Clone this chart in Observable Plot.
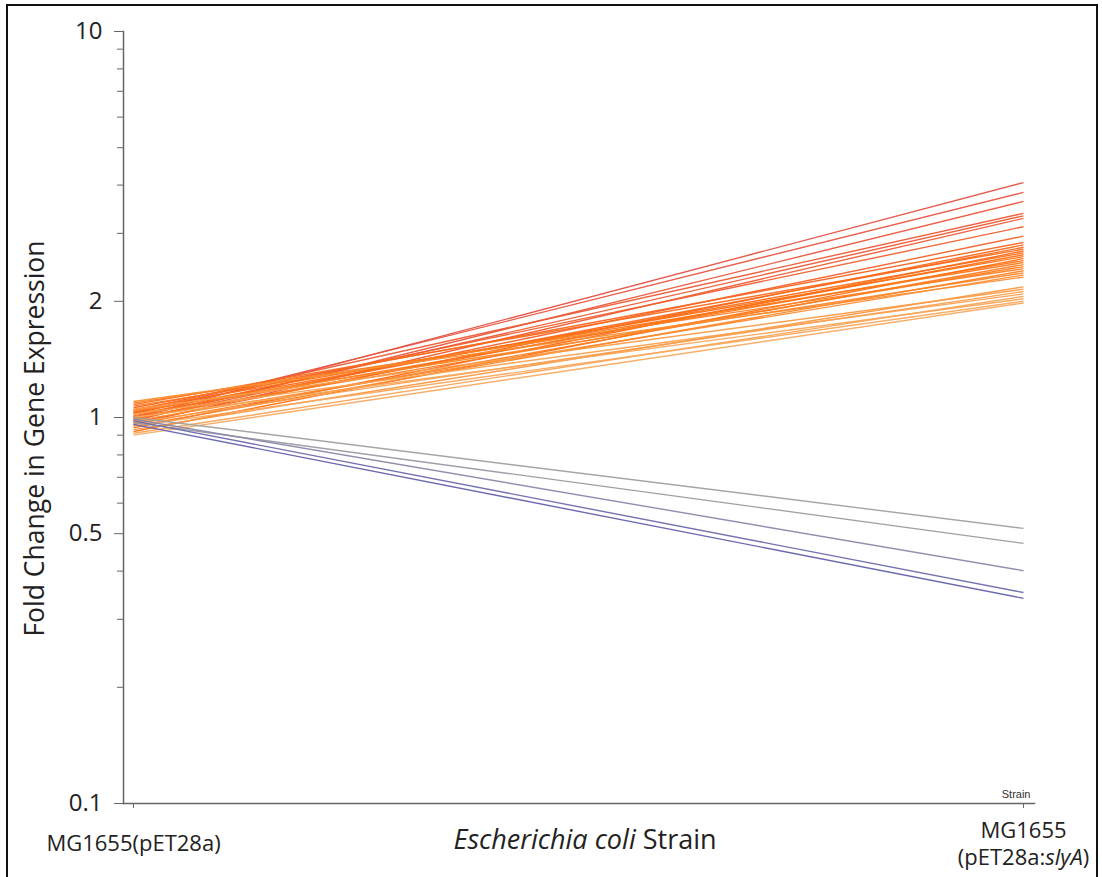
<!DOCTYPE html>
<html><head><meta charset="utf-8">
<script src="https://cdn.jsdelivr.net/npm/d3@7"></script>
<script src="https://cdn.jsdelivr.net/npm/@observablehq/plot@0.6"></script>
<style>
body{margin:0;background:#fff;}
#wrap{position:relative;width:1102px;height:877px;overflow:hidden;background:#fff;}
#frame{position:absolute;left:6px;top:4px;width:1092px;height:900px;border:2px solid #111;box-sizing:border-box;pointer-events:none;}
#wrap svg{position:absolute;left:0;top:0;}
</style></head><body><div id="wrap"><div id="frame"></div></div>
<script>
const strains = ["MG1655(pET28a)", "MG1655\n(pET28a:slyA)"];
const genes = ["g01","g02","g03","g04","g05","g06","g07","g08","g09","g10",
  "g11","g12","g13","g14","g15","g16","g17","g18","g19","g20",
  "g21","g22","g23","g24","g25","g26","g27","g28","g29","g30",
  "g31","g32","g33","g34","g35","g36","g37","g38","g39"];
const controlFold = [1.00,1.02,0.98,1.04,1.00,0.96,1.03,0.99,1.06,0.97,
  1.01,1.08,0.94,1.03,0.99,1.05,0.92,1.02,1.07,0.96,
  1.00,1.09,0.95,1.04,0.98,1.10,0.93,1.05,0.97,1.02,
  0.91,1.00,0.95,0.90,1.00,0.97,0.99,0.98,0.96];
const slyAFold = [4.06,3.83,3.63,3.38,3.33,3.28,3.12,2.95,2.84,2.80,
  2.76,2.73,2.70,2.67,2.64,2.61,2.58,2.55,2.52,2.49,
  2.46,2.43,2.40,2.37,2.34,2.31,2.18,2.15,2.12,2.09,
  2.06,2.03,2.00,1.98,0.516,0.472,0.401,0.352,0.340];
const yTickLabels = [0.1, 0.5, 1, 2, 10];
const yMinorTicks = [0.2,0.3,0.4,0.6,0.7,0.8,0.9,3,4,5,6,7,8,9];

const rows = genes.map((g, i) => ({gene: g, control: controlFold[i], slyA: slyAFold[i]}));

const plot = Plot.plot({
  width: 1102, height: 877,
  marginLeft: 123, marginRight: 68, marginTop: 31, marginBottom: 74,
  style: {fontFamily: "'Open Sans', sans-serif", background: "transparent", color: "#222"},
  x: {type: "point", domain: strains, padding: 0, insetLeft: 10, insetRight: 11, label: null},
  y: {type: "log", domain: [0.1, 10], label: null},
  color: {type: "log", domain: [0.34, 0.40, 0.50, 1.98, 2.3, 2.6, 3.0, 4.06],
          range: ["#6262ae", "#8a8aaa", "#a0a0a0", "#f8ab62", "#fb8f34", "#ff7010", "#f2602c", "#e45244"],
          interpolate: "rgb"},
  marks: [
    Plot.link(rows, {x1: () => strains[0], x2: () => strains[1], y1: "control", y2: "slyA",
      stroke: "slyA", strokeWidth: 1.4, strokeOpacity: 0.95}),
    Plot.axisY({ticks: yMinorTicks, tickSize: 6, tickFormat: () => "", stroke: "#666", label: null}),
    Plot.axisY({ticks: yTickLabels, tickSize: 9, tickPadding: 12, fontSize: 24, stroke: "#666", fill: "#222",
      tickFormat: d => String(d), label: null}),
    Plot.axisX({tickSize: 5, tickPadding: 34, fontSize: 22, lineHeight: 1.22, lineAnchor: "middle",
      stroke: "#666", fill: "#222", label: null}),
    Plot.frame({anchor: "left", stroke: "#666", strokeWidth: 1.5}),
    Plot.frame({anchor: "bottom", stroke: "#666", strokeWidth: 1.5}),
    Plot.text(["Escherichia coli Strain"], {frameAnchor: "bottom", dy: 37, dx: 6, fontSize: 27, fill: "#222",
      lineAnchor: "middle"}),
    Plot.text(["Fold Change in Gene Expression"], {frameAnchor: "left", dx: -88, dy: 21, rotate: -90,
      fontSize: 26.5, fill: "#222", textAnchor: "middle", lineAnchor: "middle"}),
    Plot.text(["Strain"], {frameAnchor: "bottom-right", dx: -4, dy: -6, textAnchor: "end", lineAnchor: "bottom",
      fontSize: 11, fontFamily: "'Liberation Sans', Arial, sans-serif", fill: "#333"})
  ]
});

document.getElementById("wrap").prepend(plot);

// italics for species and gene names
d3.select(plot).selectAll("text, tspan").each(function () {
  const el = d3.select(this);
  if (this.childElementCount) return;
  const t = this.textContent;
  if (t === "(pET28a:slyA)") {
    el.text(null);
    el.append("tspan").text("(pET28a:");
    el.append("tspan").attr("font-style", "italic").text("slyA");
    el.append("tspan").text(")");
  } else if (t === "Escherichia coli Strain") {
    el.text(null);
    el.append("tspan").attr("font-style", "italic").text("Escherichia coli");
    el.append("tspan").text(" Strain");
  }
});
</script>
</body></html>
